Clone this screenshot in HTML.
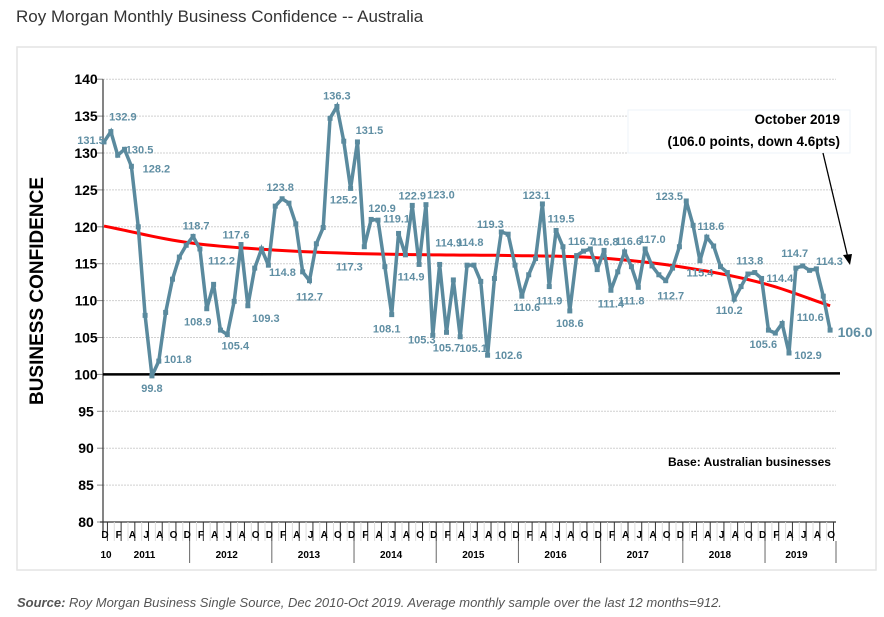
<!DOCTYPE html>
<html><head><meta charset="utf-8"><style>
body{margin:0;background:#fff;width:884px;height:617px;overflow:hidden;font-family:"Liberation Sans",sans-serif;}
svg{display:block}
</style></head><body>
<svg id="chart" width="884" height="617">
<text x="16" y="22" font-size="17" fill="#333">Roy Morgan Monthly Business Confidence -- Australia</text>
<rect x="17" y="47" width="859" height="523" fill="#fff" stroke="#e4e4e4" stroke-width="1.5"/>
<g id="grid"></g><g id="axes"></g><g id="series"></g><g id="labels"></g>
<text transform="translate(43,291) rotate(-90)" text-anchor="middle" font-size="19" font-weight="bold" fill="#000">BUSINESS CONFIDENCE</text>
<rect x="628" y="110" width="222" height="43" fill="#fff" stroke="#eef3f8"/>
<text x="840" y="124" text-anchor="end" font-size="13.5" font-weight="bold">October 2019</text>
<text x="840" y="146" text-anchor="end" font-size="13.5" font-weight="bold">(106.0 points, down 4.6pts)</text>
<line x1="823" y1="153" x2="848" y2="258" stroke="#000" stroke-width="1.3"/>
<polygon points="850,265 843,255 852,254" fill="#000"/>
<text x="668" y="466" font-size="12" font-weight="bold">Base: Australian businesses</text>
<text x="17" y="607" font-size="13" font-style="italic" fill="#555"><tspan font-weight="bold">Source:</tspan> Roy Morgan Business Single Source, Dec 2010-Oct 2019. Average monthly sample over the last 12 months=912.</text>
</svg>
<script>
const values=[131.5,
132.9,129.7,130.5,128.2,120.0,108.0,99.8,101.8,108.4,112.9,115.9,117.5,
118.7,117.0,108.9,112.2,106.0,105.4,109.9,117.6,109.3,114.4,117.0,114.8,
122.8,123.8,123.2,120.4,113.9,112.7,117.7,119.9,134.7,136.3,131.6,125.2,
131.5,117.3,121.0,120.9,114.6,108.1,119.1,116.2,122.9,114.9,123.0,105.3,
114.9,105.7,112.8,105.1,114.8,114.8,112.6,102.6,113.0,119.3,119.0,114.8,
110.6,113.5,115.7,123.1,111.9,119.5,117.3,108.6,116.1,116.7,117.0,114.2,
116.8,111.4,113.9,116.6,114.6,111.8,117.0,114.7,113.5,112.7,114.4,117.3,
123.5,120.2,115.4,118.6,117.4,114.6,113.8,110.2,111.9,113.6,113.8,113.0,
106.0,105.6,106.9,102.9,114.4,114.7,114.1,114.3,110.6,106.0];
const trendIdx=[0,12,24,36,48,60,72,84,96,106];
const trendVals=[120.1,117.9,116.9,116.4,116.2,116.1,115.8,114.6,112.4,109.3];
const yTicks=[80,85,90,95,100,105,110,115,120,125,130,135,140];
const monthLetters=["D","J","F","M","A","M","J","J","A","S","O","N"];
const years=["2011","2012","2013","2014","2015","2016","2017","2018","2019"];
const labelIdx=[0,1,3,4,7,8,13,15,16,18,20,21,24,26,30,34,36,37,38,40,42,43,45,46,47,48,49,50,52,53,56,58,61,64,65,66,68,70,73,74,76,78,79,82,85,87,88,92,95,98,101,100,102,104,105,106];
const labelOff=[[-13,-2],[12,-15],[15,0],[25,2],[0,12],[19,-2],[3,-11],[-9,13],[8,-24],[8,11],[-5,-10],[18,12],[14,7],[-2,-12],[0,16],[0,-11],[-7,11],[12,-12],[-15,20],[4,-12],[-5,14],[-2,-15],[0,-10],[-8,12],[15,-10],[-11,4],[9,-22],[0,15],[13,11],[3,-23],[21,0],[-11,-8],[5,11],[-6,-9],[0,14],[5,-12],[0,12],[-2,-10],[1,-9],[0,13],[4,-11],[-7,13],[7,-10],[5,15],[-17,-5],[0,12],[4,-11],[-5,11],[-5,-12],[-12,11],[-16,10],[19,2],[-8,-13],[13,-8],[-13,21],[25,3]];
</script>
<script>
const NS="http://www.w3.org/2000/svg";
const X0=104,STEP=6.85,Y0=522,YS=7.38;
function xs(i){return X0+i*STEP;}
function ys(v){return Y0-(v-80)*YS;}
function mk(tag,attrs,parent){const e=document.createElementNS(NS,tag);for(const k in attrs)e.setAttribute(k,attrs[k]);parent.appendChild(e);return e;}
const grid=document.getElementById('grid'),axes=document.getElementById('axes'),series=document.getElementById('series'),labels=document.getElementById('labels');
yTicks.forEach(t=>{
  if(t>80&&t!==100){const l=mk('line',{x1:103,x2:836,y1:ys(t),y2:ys(t),stroke:'#d0d0d0','stroke-dasharray':'2,1'},grid);
  
  }
  const tk=mk('line',{x1:97,x2:103,y1:ys(t),y2:ys(t),stroke:'#888'},axes);
  
  
  const tx=mk('text',{x:86,y:ys(t)+5,'text-anchor':'middle','font-size':14,'font-weight':'bold',fill:'#000'},axes);
  tx.textContent=t;
  
  
});
const ya=mk('line',{x1:103,x2:103,y1:ys(140),y2:532,stroke:'#333','stroke-width':1.2},axes);


const xa=mk('line',{x1:100,x2:836,y1:Y0,y2:Y0,stroke:'#333','stroke-width':1.2},axes);


for(let i=0;i<values.length;i++){
  const bx=xs(i)+STEP/2;
  const tl=mk('line',{x1:bx,x2:bx,y1:Y0,y2:541,stroke:(i%2?'#ddd':'#333'),'stroke-width':1},axes);
  
  
  if(i%2===0){const m=mk('text',{x:xs(i)+1,y:538,'text-anchor':'middle','font-size':10,'font-weight':'bold',fill:'#000'},axes);
  m.textContent=monthLetters[i%12];
  
  }
}
const t10=mk('text',{x:106,y:558,'text-anchor':'middle','font-size':10,'font-weight':'bold'},axes);t10.textContent='10';


years.forEach((y,k)=>{
  const right=Math.min(xs(12*(k+1))+STEP/2,836),left=xs(12*k)+STEP/2;
  const sl=mk('line',{x1:right,x2:right,y1:541,y2:563,stroke:'#666'},axes);
  
  
  const tx=mk('text',{x:(left+right)/2-4,y:558,'text-anchor':'middle','font-size':10,'font-weight':'bold'},axes);
  tx.textContent=y;
  
  
});
const base=mk('line',{x1:103,x2:840,y1:ys(100),y2:ys(100)-1,stroke:'#000','stroke-width':2.5},series);


let tp=[];
for(let k=0;k<trendIdx.length-1;k++){
  const i0=trendIdx[k],i1=trendIdx[k+1];
  const m0=k>0?(trendVals[k+1]-trendVals[k-1])/(trendIdx[k+1]-trendIdx[k-1]):(trendVals[1]-trendVals[0])/(trendIdx[1]-trendIdx[0]);
  const m1=k<trendIdx.length-2?(trendVals[k+2]-trendVals[k])/(trendIdx[k+2]-trendIdx[k]):(trendVals[k+1]-trendVals[k])/(i1-i0);
  const h=i1-i0;
  for(let s=0;s<h;s++){const t=s/h,t2=t*t,t3=t2*t;
    const v=(2*t3-3*t2+1)*trendVals[k]+(t3-2*t2+t)*h*m0+(-2*t3+3*t2)*trendVals[k+1]+(t3-t2)*h*m1;
    tp.push(xs(i0+s)+','+ys(v));}
}
tp.push(xs(trendIdx[trendIdx.length-1])+','+ys(trendVals[trendVals.length-1]));
const tr=mk('polyline',{points:tp.join(' '),fill:'none',stroke:'#f00','stroke-width':3},series);


const pl=mk('polyline',{points:values.map((v,i)=>xs(i)+','+ys(v)).join(' '),fill:'none',stroke:'#5a8a9e','stroke-width':3.5,'stroke-linejoin':'miter','stroke-miterlimit':3},series);


values.forEach((v,i)=>{const p=mk('rect',{x:xs(i)-2.5,y:ys(v)-2.5,width:5,height:5,fill:'#5a8a9e'},series);
  
  });
labelIdx.forEach((i,k)=>{
  const o=labelOff[k]||[0,-10];const last=i===values.length-1;
  const t=mk('text',{x:xs(i)+o[0],y:ys(values[i])+o[1]+4,'text-anchor':'middle','font-size':last?14:11,'font-weight':'bold',fill:'#5f8ea3'},labels);
  t.textContent=values[i].toFixed(1);
  
  
});
</script>
</body></html>
